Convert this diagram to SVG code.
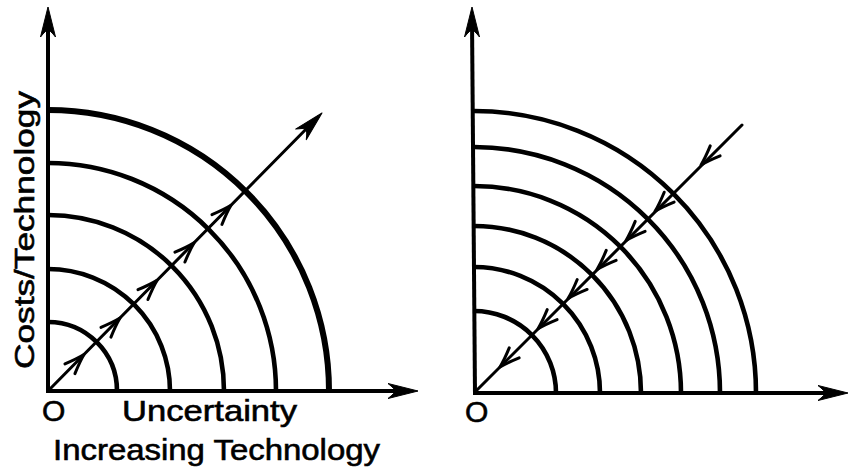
<svg xmlns="http://www.w3.org/2000/svg" width="851" height="470" viewBox="0 0 851 470">
<defs>
<style>
.axis{stroke:#000;stroke-width:4;fill:none;stroke-linecap:butt}
.arc{stroke:#000;stroke-width:4.6;fill:none}
.arc.thick{stroke-width:6}
.diag{stroke:#000;stroke-width:3;fill:none;stroke-linecap:round}
.chev{stroke:#000;stroke-width:3;fill:none;stroke-linecap:round;stroke-linejoin:round}
.head{fill:#000;stroke:#000;stroke-width:1;stroke-linejoin:round}
.lbl{font-family:"Liberation Sans",Arial,Helvetica,sans-serif;font-size:30px;fill:#000;stroke:#000;stroke-width:0.6}
.vlbl{font-size:28px}
</style>
<path id="chev" class="chev" d="M-20,-7 Q-8,-2 0,0 Q-8,2 -20,7"/>
<path id="head" class="head" d="M0,0 L-30,-7.5 Q-23,-2 -23,0 Q-23,2 -30,7.5 Z"/>
</defs>

<g id="left-panel">
  <g id="left-axes">
    <line class="axis" x1="48" y1="393" x2="48" y2="20"/>
    <line class="axis" x1="46" y1="391" x2="405" y2="391"/>
    <use href="#head" transform="translate(48,7) rotate(-90)"/>
    <use href="#head" transform="translate(418,391)"/>
  </g>
  <g id="left-arcs">
    <path class="arc" d="M48,322 A69,69 0 0 1 117,391"/>
    <path class="arc" d="M48,269 A122,122 0 0 1 170,391"/>
    <path class="arc" d="M48,215 A176,176 0 0 1 224,391"/>
    <path class="arc" d="M48,163 A228,228 0 0 1 276,391"/>
    <path class="arc thick" d="M48,110 A281,281 0 0 1 329,391"/>
  </g>
  <g id="left-connectors">
    <line class="diag" x1="48" y1="391" x2="318" y2="117"/>
    <use href="#head" transform="translate(322,113) rotate(-45.4)"/>
    <use href="#chev" transform="translate(84,354.5) rotate(-45.4)"/>
    <use href="#chev" transform="translate(120,318) rotate(-45.4)"/>
    <use href="#chev" transform="translate(157,280.4) rotate(-45.4)"/>
    <use href="#chev" transform="translate(194,242.9) rotate(-45.4)"/>
    <use href="#chev" transform="translate(231,205.3) rotate(-45.4)"/>
  </g>
  <g id="left-labels">
    <text class="lbl vlbl" transform="translate(34,369) rotate(-90)" textLength="278" lengthAdjust="spacingAndGlyphs">Costs/Technology</text>
    <text class="lbl" x="42" y="421">O</text>
    <text class="lbl" x="122" y="421" textLength="175" lengthAdjust="spacingAndGlyphs">Uncertainty</text>
    <text class="lbl" x="53" y="460" textLength="327" lengthAdjust="spacingAndGlyphs">Increasing Technology</text>
  </g>
</g>

<g id="right-panel">
  <g id="right-axes">
    <line class="axis" x1="475" y1="395" x2="472" y2="20"/>
    <line class="axis" x1="473" y1="393" x2="835" y2="393"/>
    <use href="#head" transform="translate(472,7) rotate(-90)"/>
    <use href="#head" transform="translate(848,393)"/>
  </g>
  <g id="right-arcs">
    <path class="arc" d="M474,311 A82,82 0 0 1 556,393"/>
    <path class="arc" d="M474,267 A126,126 0 0 1 600,393"/>
    <path class="arc" d="M474,226 A167,167 0 0 1 641,393"/>
    <path class="arc" d="M474,186 A207,207 0 0 1 681,393"/>
    <path class="arc" d="M474,147 A246,246 0 0 1 720,393"/>
    <path class="arc" d="M474,111 A282,282 0 0 1 756,393"/>
  </g>
  <g id="right-connectors">
    <line class="diag" x1="742" y1="125" x2="475" y2="392"/>
    <use href="#chev" transform="translate(701,165) rotate(135.1)"/>
    <use href="#chev" transform="translate(655,211.3) rotate(135.1)"/>
    <use href="#chev" transform="translate(626,240.5) rotate(135.1)"/>
    <use href="#chev" transform="translate(597,269.5) rotate(135.1)"/>
    <use href="#chev" transform="translate(568,298.6) rotate(135.1)"/>
    <use href="#chev" transform="translate(538,328.7) rotate(135.1)"/>
    <use href="#chev" transform="translate(500,367) rotate(135.1)"/>
  </g>
  <g id="right-labels">
    <text class="lbl" x="465" y="422">O</text>
  </g>
</g>
</svg>
